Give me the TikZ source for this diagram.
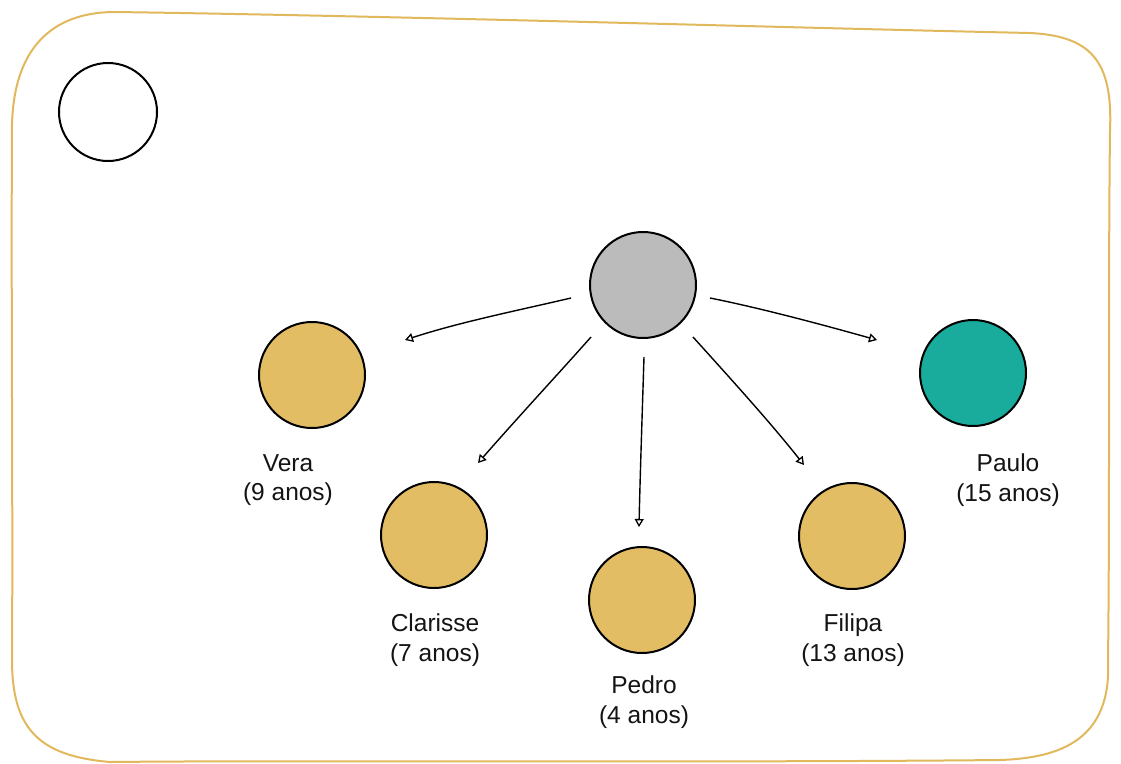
\documentclass[tikz,border=0pt]{standalone}
\usepackage{fontspec}
\setmainfont{Liberation Sans}
\usetikzlibrary{arrows.meta}
\definecolor{framegold}{HTML}{E1B95C}
\definecolor{sun}{HTML}{E2BD63}
\definecolor{teal}{HTML}{19AB9C}
\definecolor{stone}{HTML}{BBBBBB}
\tikzset{
  person/.style={circle, draw=black, line width=2pt, minimum size=106pt, inner sep=0pt},
  kid/.style={person, fill=sun},
  lbl/.style={align=center, font=\fontsize{24.5}{29.5}\selectfont, text=black!92},
  link/.style={line width=1.4pt, -{Triangle[open, length=8pt, width=9pt, line width=1.3pt]}}
}
\begin{document}
\begin{tikzpicture}[x=1pt, y=-1pt]
\useasboundingbox (0,0) rectangle (1121,763);
% frame
\draw[framegold, line width=2pt, line join=round]
  (12,125) .. controls (14,40) and (60,12) .. (115,12)
  .. controls (400,16) and (800,28) .. (1030,33)
  .. controls (1090,36) and (1113,60) .. (1110,130)
  .. controls (1108,300) and (1110,500) .. (1108,660)
  .. controls (1112,740) and (1060,758) .. (1000,760)
  .. controls (700,763) and (300,760) .. (110,762)
  .. controls (40,756) and (12,730) .. (12,660)
  .. controls (13,500) and (11,300) .. cycle;
% nodes
\node[person, minimum size=98pt] (self) at (108,112) {};
\node[person, fill=stone] (parent) at (643,285) {};
\node[kid] (vera) at (312,375) {};
\node[kid] (clarisse) at (434,535) {};
\node[kid] (pedro) at (642,600) {};
\node[kid] (filipa) at (852,536) {};
\node[person, fill=teal] (paulo) at (973,373) {};
% labels
\node[lbl] (lvera) at (288,480) {Vera\\(9 anos)};
\node[lbl] (lclarisse) at (435,640) {Clarisse\\(7 anos)};
\node[lbl] (lpedro) at (644,702) {Pedro\\(4 anos)};
\node[lbl] (lfilipa) at (853,640) {Filipa\\(13 anos)};
\node[lbl] (lpaulo) at (1008,480) {Paulo\\(15 anos)};
% arrow ends
\coordinate (s1) at (571,298); \coordinate (e1) at (405,340);
\coordinate (s2) at (591,337); \coordinate (e2) at (478,463);
\coordinate (s3) at (644,357); \coordinate (e3) at (639,527);
\coordinate (s4) at (693,337); \coordinate (e4) at (804,465);
\coordinate (s5) at (710,298); \coordinate (e5) at (877,340);
\draw[link] (s1) .. controls (520,310) and (460,322) .. (e1);
\draw[link] (s2) .. controls (560,372) and (520,415) .. (e2);
\draw[link] (s3) .. controls (642,420) and (640,480) .. (e3);
\draw[link] (s4) .. controls (730,378) and (770,422) .. (e4);
\draw[link] (s5) .. controls (760,308) and (820,324) .. (e5);
\end{tikzpicture}
\end{document}
